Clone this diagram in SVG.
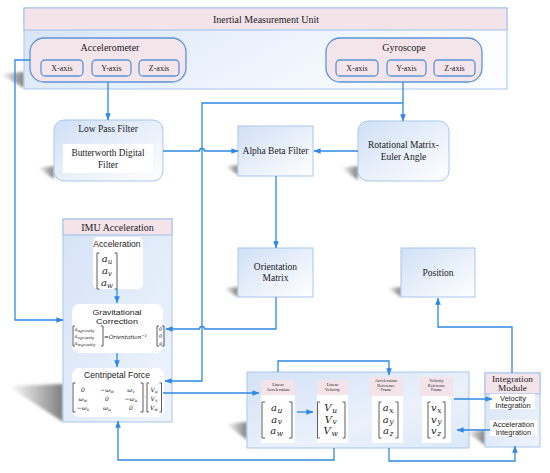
<svg xmlns="http://www.w3.org/2000/svg" width="550" height="473" viewBox="0 0 550 473">
<defs>
<style>
.serif{font-family:"Liberation Serif","Times New Roman",serif;fill:#222}
.sans{font-family:"Liberation Sans",Arial,sans-serif;fill:#222}
.math{font-family:"DejaVu Serif","Liberation Serif",serif;font-style:italic;fill:#222}
.bm{font-size:10px;letter-spacing:0.6px}
.bs{font-size:7.5px}
.c{fill:none;stroke:#2f89e3;stroke-width:1.3}
.box{fill:url(#gb);stroke:#a7c7ec;stroke-width:1}
.pink{fill:#f4e5eb;stroke:#5b95d6;stroke-width:1.3}
.hdr{fill:#f4e4ea;stroke:#9cbfe8;stroke-width:1}
.ph{fill:#f4e4ea}
.wh{fill:#ffffff}
.br{fill:none;stroke:#333;stroke-width:0.8}
.sh{fill:url(#gs);filter:url(#blur)}
</style>
<linearGradient id="gb" x1="0" y1="0" x2="1" y2="1">
<stop offset="0" stop-color="#d0e0f6"/>
<stop offset="1" stop-color="#ffffff"/>
</linearGradient>
<linearGradient id="gimu" x1="0" y1="0" x2="1" y2="0.3">
<stop offset="0" stop-color="#d6e4f7"/>
<stop offset="1" stop-color="#fbfdff"/>
</linearGradient>
<linearGradient id="gcol" x1="0" y1="0" x2="1" y2="1">
<stop offset="0" stop-color="#d5e3f6"/>
<stop offset="1" stop-color="#eef4fc"/>
</linearGradient>
<linearGradient id="gpan" x1="0" y1="0" x2="1" y2="1">
<stop offset="0" stop-color="#d3e2f6"/>
<stop offset="0.6" stop-color="#eaf1fb"/>
<stop offset="1" stop-color="#dce8f8"/>
</linearGradient>
<linearGradient id="gs" x1="0" y1="0" x2="1" y2="0">
<stop offset="0" stop-color="#777" stop-opacity="0"/>
<stop offset="1" stop-color="#666" stop-opacity="0.85"/>
</linearGradient>
<filter id="blur" x="-30%" y="-30%" width="160%" height="160%"><feGaussianBlur stdDeviation="1.5"/></filter>
<marker id="ah" viewBox="0 0 10 10" refX="9.5" refY="5" markerWidth="7" markerHeight="7" orient="auto" markerUnits="userSpaceOnUse">
<path d="M0,1 L10,5 L0,9 Z" fill="#2f89e3"/>
</marker>
</defs>
<rect width="550" height="473" fill="#ffffff"/>

<g id="shadows">
<polygon class="sh" points="0,74 24,72 24,88"/>
<polygon class="sh" points="38,168 54,166 54,179"/>
<polygon class="sh" points="225,166 238,165 238,175"/>
<polygon class="sh" points="341,168 358,166 358,180"/>
<polygon class="sh" points="223,288 238,287 238,297"/>
<polygon class="sh" points="387,288 401,287 401,297"/>
<polygon class="sh" points="8,386 63,384 63,422"/>
<polygon class="sh" points="226,424 247,422 247,440"/>
<polygon class="sh" points="466,432 485,430 485,445"/>
</g>

<g id="imu">
<rect x="24" y="8" width="483" height="81" fill="url(#gimu)" stroke="#a7c7ec"/>
<rect class="hdr" x="24" y="8" width="483" height="22"/>
<text class="serif" x="266" y="23" font-size="10" text-anchor="middle">Inertial Measurement Unit</text>
</g>

<g id="accelerometer">
<rect class="pink" x="30" y="38" width="156" height="44" rx="14"/>
<text class="serif" x="110" y="51" font-size="10" text-anchor="middle">Accelerometer</text>
<rect class="pink" x="41" y="60" width="42" height="16" rx="4"/>
<text class="serif" x="62" y="71" font-size="8" text-anchor="middle">X-axis</text>
<rect class="pink" x="92" y="60" width="39" height="16" rx="4"/>
<text class="serif" x="111.5" y="71" font-size="8" text-anchor="middle">Y-axis</text>
<rect class="pink" x="139" y="60" width="40" height="16" rx="4"/>
<text class="serif" x="159" y="71" font-size="8" text-anchor="middle">Z-axis</text>
</g>

<g id="gyroscope">
<rect class="pink" x="326" y="38" width="156" height="44" rx="14"/>
<text class="serif" x="404" y="51" font-size="10" text-anchor="middle">Gyroscope</text>
<rect class="pink" x="336" y="60" width="42" height="16" rx="4"/>
<text class="serif" x="357" y="71" font-size="8" text-anchor="middle">X-axis</text>
<rect class="pink" x="387" y="60" width="39" height="16" rx="4"/>
<text class="serif" x="406.5" y="71" font-size="8" text-anchor="middle">Y-axis</text>
<rect class="pink" x="434" y="60" width="41" height="16" rx="4"/>
<text class="serif" x="454.5" y="71" font-size="8" text-anchor="middle">Z-axis</text>
</g>

<g id="lowpass">
<rect class="box" x="54" y="120" width="109" height="61" rx="10"/>
<text class="serif" x="108" y="132" font-size="9.5" text-anchor="middle">Low Pass Filter</text>
<rect class="wh" x="63" y="144" width="90" height="29"/>
<text class="serif" x="108" y="156" font-size="9.3" text-anchor="middle">Butterworth Digital</text>
<text class="serif" x="108" y="168" font-size="9.3" text-anchor="middle">Filter</text>
</g>

<g id="alphabeta">
<rect class="box" x="238" y="126" width="75" height="50"/>
<text class="serif" x="275.5" y="154" font-size="9.5" text-anchor="middle">Alpha Beta Filter</text>
</g>

<g id="rotational">
<rect class="box" x="358" y="121" width="91" height="60" rx="10"/>
<text class="serif" x="403.5" y="148" font-size="9.5" text-anchor="middle">Rotational Matrix-</text>
<text class="serif" x="403.5" y="160" font-size="9.5" text-anchor="middle">Euler Angle</text>
</g>

<g id="orientation">
<rect class="box" x="238" y="248" width="75" height="49"/>
<text class="serif" x="275.5" y="270" font-size="9.5" text-anchor="middle">Orientation</text>
<text class="serif" x="275.5" y="281" font-size="9.5" text-anchor="middle">Matrix</text>
</g>

<g id="position">
<rect class="box" x="401" y="248" width="74" height="49"/>
<text class="serif" x="438" y="276" font-size="9.5" text-anchor="middle">Position</text>
</g>

<g id="imuacc">
<rect x="63" y="219" width="109" height="203" fill="url(#gcol)" stroke="#a7c7ec"/>
<rect class="hdr" x="63" y="219" width="109" height="16"/>
<text class="serif" x="117.5" y="231" font-size="10" text-anchor="middle">IMU Acceleration</text>
</g>

<g id="acceleration">
<rect class="wh" x="93" y="237" width="50" height="52" rx="5"/>
<text class="sans" x="117" y="247" font-size="8.6" text-anchor="middle">Acceleration</text>
<path class="br" d="M99.5,253 H97 V289 H99.5 M114.5,253 H117 V289 H114.5"/>
<text class="math" x="107" y="262" font-size="10" text-anchor="middle">a<tspan font-size="7" dy="2">u</tspan></text>
<text class="math" x="107" y="274" font-size="10" text-anchor="middle">a<tspan font-size="7" dy="2">v</tspan></text>
<text class="math" x="107" y="286" font-size="10" text-anchor="middle">a<tspan font-size="7" dy="2">w</tspan></text>
</g>

<g id="gravitational">
<rect class="wh" x="72" y="304" width="91" height="49" rx="7"/>
<text class="sans" x="117" y="314.5" font-size="8" text-anchor="middle" textLength="49" lengthAdjust="spacingAndGlyphs">Gravitational</text>
<text class="sans" x="117" y="323.5" font-size="8" text-anchor="middle" textLength="42" lengthAdjust="spacingAndGlyphs">Correction</text>
<path class="br" d="M75,326 H73 V346 H75 M101,326 H103 V346 H101" stroke-width="0.6"/>
<text class="math" x="74.5" y="331" font-size="5">a<tspan font-size="4" dy="1">ugravity</tspan></text>
<text class="math" x="74.5" y="338" font-size="5">a<tspan font-size="4" dy="1">vgravity</tspan></text>
<text class="math" x="74.5" y="345" font-size="5">a<tspan font-size="4" dy="1">wgravity</tspan></text>
<text class="math" x="104" y="339" font-size="5.6">=Orientation<tspan font-size="4" dy="-2">−1</tspan></text>
<path class="br" d="M159,326 H157 V346 H159 M162,326 H164 V346 H162" stroke-width="0.6"/>
<text class="math" x="160.5" y="331" font-size="5" text-anchor="middle">0</text>
<text class="math" x="160.5" y="338" font-size="5" text-anchor="middle">0</text>
<text class="math" x="160.5" y="345" font-size="5" text-anchor="middle">g</text>
</g>

<g id="centripetal">
<rect class="wh" x="72" y="368" width="92" height="49" rx="7"/>
<text class="sans" x="117" y="378" font-size="8.6" text-anchor="middle">Centripetal Force</text>
<path class="br" d="M75.5,383 H73 V412 H75.5 M140.5,383 H143 V412 H140.5" stroke-width="0.6"/>
<g class="math" font-size="6" text-anchor="middle">
<text x="83" y="392">0</text><text x="107" y="392">−ω<tspan font-size="4.5" dy="1">w</tspan></text><text x="131" y="392">ω<tspan font-size="4.5" dy="1">v</tspan></text>
<text x="83" y="401">ω<tspan font-size="4.5" dy="1">w</tspan></text><text x="107" y="401">0</text><text x="131" y="401">−ω<tspan font-size="4.5" dy="1">u</tspan></text>
<text x="83" y="410">−ω<tspan font-size="4.5" dy="1">v</tspan></text><text x="107" y="410">ω<tspan font-size="4.5" dy="1">u</tspan></text><text x="131" y="410">0</text>
<text x="145" y="399">·</text>
<text x="154" y="392">V<tspan font-size="4.5" dy="1">u</tspan></text>
<text x="154" y="401">V<tspan font-size="4.5" dy="1">v</tspan></text>
<text x="154" y="410">V<tspan font-size="4.5" dy="1">w</tspan></text>
</g>
<path class="br" d="M149,383 H147 V412 H149 M159.5,383 H161.5 V412 H159.5" stroke-width="0.6"/>
</g>

<g id="panel">
<rect x="247" y="372" width="222" height="76" fill="url(#gpan)" stroke="#a7c7ec"/>
</g>

<g id="linacc">
<rect class="ph" x="261" y="380" width="34" height="15"/>
<text class="serif" x="278" y="386" font-size="4.5" text-anchor="middle">Linear</text>
<text class="serif" x="278" y="391" font-size="4.5" text-anchor="middle">Acceleration</text>
<rect class="wh" x="261" y="395" width="34" height="48"/>
<path class="br" d="M265,402 H262 V438 H265 M289,402 H292 V438 H289"/>
<text class="math bm" x="277" y="411" text-anchor="middle">a<tspan class="bs" dy="1.5">u</tspan></text>
<text class="math bm" x="277" y="422.5" text-anchor="middle">a<tspan class="bs" dy="1.5">v</tspan></text>
<text class="math bm" x="277" y="434" text-anchor="middle">a<tspan class="bs" dy="1.5">w</tspan></text>
</g>

<g id="linvel">
<rect class="ph" x="317" y="380" width="31" height="15"/>
<text class="serif" x="332.5" y="386" font-size="4.5" text-anchor="middle">Linear</text>
<text class="serif" x="332.5" y="391" font-size="4.5" text-anchor="middle">Velocity</text>
<rect class="wh" x="317" y="395" width="31" height="48"/>
<path class="br" d="M320,402 H317.5 V438 H320 M342.5,402 H345 V438 H342.5"/>
<text class="math bm" x="331" y="411" text-anchor="middle">V<tspan class="bs" dy="1.5">u</tspan></text>
<text class="math bm" x="331" y="422.5" text-anchor="middle">V<tspan class="bs" dy="1.5">v</tspan></text>
<text class="math bm" x="331" y="434" text-anchor="middle">V<tspan class="bs" dy="1.5">w</tspan></text>
</g>

<g id="accref">
<rect class="ph" x="369" y="377" width="34" height="19"/>
<text class="serif" x="386" y="382" font-size="4.3" text-anchor="middle">Acceleration</text>
<text class="serif" x="386" y="386.5" font-size="4.3" text-anchor="middle">Reference</text>
<text class="serif" x="386" y="391" font-size="4.3" text-anchor="middle">Frame</text>
<rect class="wh" x="372" y="396" width="31" height="47"/>
<path class="br" d="M381.5,402 H379 V438 H381.5 M395.5,402 H398 V438 H395.5"/>
<text class="math bm" x="388.5" y="411" text-anchor="middle">a<tspan class="bs" dy="1.5">x</tspan></text>
<text class="math bm" x="388.5" y="422.5" text-anchor="middle">a<tspan class="bs" dy="1.5">y</tspan></text>
<text class="math bm" x="388.5" y="434" text-anchor="middle">a<tspan class="bs" dy="1.5">z</tspan></text>
</g>

<g id="velref">
<rect class="ph" x="420" y="377" width="33" height="19"/>
<text class="serif" x="436.5" y="382" font-size="4.3" text-anchor="middle">Velocity</text>
<text class="serif" x="436.5" y="386.5" font-size="4.3" text-anchor="middle">Reference</text>
<text class="serif" x="436.5" y="391" font-size="4.3" text-anchor="middle">Frame</text>
<rect class="wh" x="422" y="396" width="29" height="47"/>
<path class="br" d="M430.5,402 H428 V438 H430.5 M442.5,402 H445 V438 H442.5"/>
<text class="math bm" x="436.5" y="411" text-anchor="middle">v<tspan class="bs" dy="1.5">x</tspan></text>
<text class="math bm" x="436.5" y="422.5" text-anchor="middle">v<tspan class="bs" dy="1.5">y</tspan></text>
<text class="math bm" x="436.5" y="434" text-anchor="middle">v<tspan class="bs" dy="1.5">z</tspan></text>
</g>

<g id="integration">
<rect x="485" y="373" width="55" height="74" fill="url(#gcol)" stroke="#a7c7ec"/>
<rect class="hdr" x="485" y="373" width="55" height="21"/>
<text class="serif" x="512.5" y="381.5" font-size="8.5" text-anchor="middle" textLength="41" lengthAdjust="spacingAndGlyphs">Integration</text>
<text class="serif" x="512.5" y="391" font-size="8.5" text-anchor="middle" textLength="29" lengthAdjust="spacingAndGlyphs">Module</text>
<rect class="wh" x="490" y="394" width="45" height="15"/>
<text class="sans" x="513" y="400.5" font-size="7.5" text-anchor="middle">Velocity</text>
<text class="sans" x="513" y="408" font-size="7.5" text-anchor="middle">Integration</text>
<rect class="wh" x="490" y="420" width="47" height="16"/>
<text class="sans" x="513.5" y="427" font-size="7.5" text-anchor="middle">Acceleration</text>
<text class="sans" x="513.5" y="434.5" font-size="7.5" text-anchor="middle">Integration</text>
</g>

<g id="connectors">
<path class="c" d="M30,60 H15 V320 H63" marker-end="url(#ah)"/>
<path class="c" d="M108,82 V120" marker-end="url(#ah)"/>
<path class="c" d="M403,82 V121" marker-end="url(#ah)"/>
<path class="c" d="M403,103 H202 V381 H165" marker-end="url(#ah)"/>
<path class="c" d="M163,151 H199.5 A2.5,2.5 0 0 1 204.5,151 H238" marker-end="url(#ah)"/>
<path class="c" d="M358,151 H314" marker-end="url(#ah)"/>
<path class="c" d="M276,176 V248" marker-end="url(#ah)"/>
<path class="c" d="M276,297 V329 H204.5 A2.5,2.5 0 0 0 199.5,329 H166" marker-end="url(#ah)"/>
<path class="c" d="M117,289 V303" marker-end="url(#ah)"/>
<path class="c" d="M117,353 V367" marker-end="url(#ah)"/>
<path class="c" d="M163,393 H259" marker-end="url(#ah)"/>
<path class="c" d="M334,448 V460 H118 V421" marker-end="url(#ah)"/>
<path class="c" d="M278,372 V361 H389 V375" marker-end="url(#ah)"/>
<path class="c" d="M297,412 H313" marker-end="url(#ah)"/>
<path class="c" d="M454,399 H492" marker-end="url(#ah)"/>
<path class="c" d="M490,430 H457" marker-end="url(#ah)"/>
<path class="c" d="M389,448 V461 H515 V446" marker-end="url(#ah)"/>
<path class="c" d="M512,373 V327 H438 V298" marker-end="url(#ah)"/>
</g>
</svg>
